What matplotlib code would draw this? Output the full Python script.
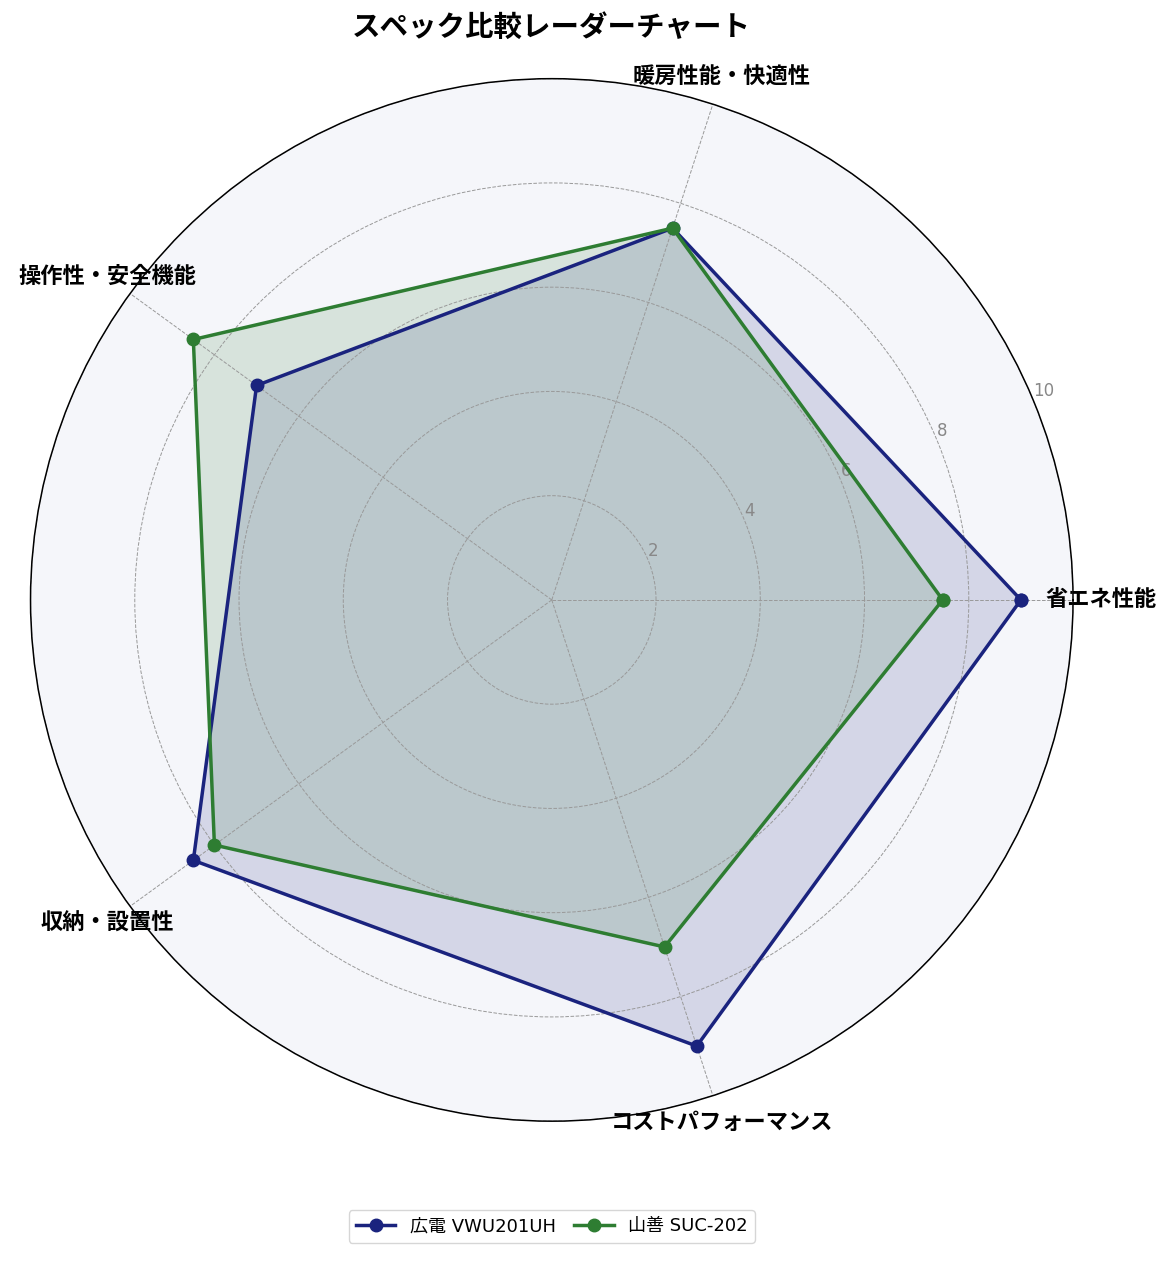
import matplotlib
matplotlib.use("Agg")
import matplotlib.pyplot as plt
import numpy as np

plt.rcParams['font.family'] = ['Noto Sans CJK JP', 'DejaVu Sans']

# データ
categories = ['省エネ性能', '暖房性能・快適性', '操作性・安全機能', '収納・設置性', 'コストパフォーマンス']
series_names = ['広電 VWU201UH', '山善 SUC-202']
values_hiroden = [9.0, 7.5, 7.0, 8.5, 9.0]
values_yamazen = [7.5, 7.5, 8.5, 8.0, 7.0]
colors = ['#1a237e', '#2e7d32']
r_ticks = [2, 4, 6, 8, 10]

n = len(categories)
angles = np.linspace(0, 2 * np.pi, n, endpoint=False).tolist()
angles_closed = angles + angles[:1]

fig = plt.figure(figsize=(11.74, 12.63), dpi=100)
ax = fig.add_axes([0.026, 0.112, 0.888, 0.826], polar=True)
ax.set_facecolor('#f5f6fa')

for name, vals, c in zip(series_names, [values_hiroden, values_yamazen], colors):
    v = vals + vals[:1]
    ax.plot(angles_closed, v, color=c, lw=2.5, marker='o', markersize=9, label=name)
    ax.fill(angles_closed, v, color=c, alpha=0.15)

ax.set_ylim(0, 10.0)
ax.set_yticks(r_ticks)
ax.set_yticklabels([str(t) for t in r_ticks], color='#888888', fontsize=12,
                   family=['DejaVu Sans'])
ax.set_xticks(angles)
ax.set_xticklabels(categories, fontsize=16, fontweight='bold')
ax.tick_params(axis='x', pad=10)
ax.grid(color='#999999', linestyle='--', linewidth=0.7)
ax.spines['polar'].set_color('black')
ax.spines['polar'].set_linewidth(1.1)

fig.suptitle('スペック比較レーダーチャート', fontsize=20.5, fontweight='bold',
             x=0.47, y=0.989)
fig.legend(loc='lower center', ncol=2, bbox_to_anchor=(0.47, 0.009), frameon=True,
           prop={'family': ['DejaVu Sans', 'Noto Sans CJK JP'], 'size': 13},
           columnspacing=1.0, handlelength=2.2)

fig.savefig('out.png', dpi=100)
